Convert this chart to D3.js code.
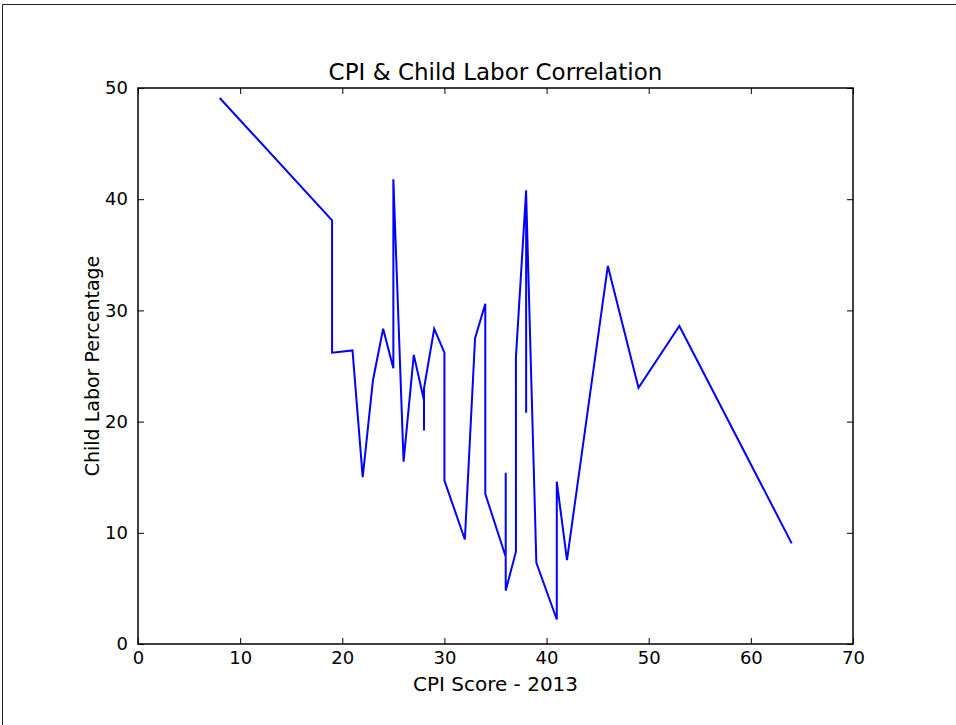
<!DOCTYPE html>
<html>
<head>
<meta charset="utf-8">
<script src="https://cdn.jsdelivr.net/npm/d3@7"></script>
<style>
  html, body { margin: 0; padding: 0; background: #fff; }
  text { font-family: "DejaVu Sans", sans-serif; fill: #000; }
</style>
</head>
<body>
<div id="chart"></div>
<script>
// CPI score 2013 (x) vs child labor percentage (y), in plotted order
const cpiScores = [8, 19, 19, 21, 22, 23, 24, 25, 25, 26, 27, 28, 28, 28, 29, 30, 30, 32, 33, 34, 34,
  36, 36, 36, 37, 37, 38, 38, 38, 39, 41, 41, 42, 46, 49, 53, 64];
const childLabor = [49.1, 38.1, 26.2, 26.4, 15.0, 23.7, 28.35, 24.8, 41.8, 16.4, 26.0, 21.9, 19.2, 23.0,
  28.35, 26.2, 14.7, 9.4, 27.5, 30.6, 13.5, 7.85, 15.4, 4.8, 8.3, 25.8, 40.8, 20.8, 40.5, 7.3, 2.2,
  14.6, 7.55, 34.0, 23.05, 28.6, 9.05];
const xTicks = [0, 10, 20, 30, 40, 50, 60, 70];
const yTicks = [0, 10, 20, 30, 40, 50];

const W = 956, H = 725;
const m = { left: 138, top: 88, right: 853, bottom: 644 };

const svg = d3.select('#chart').append('svg')
  .attr('width', W).attr('height', H);

svg.append('rect').attr('width', W).attr('height', H).attr('fill', '#fff');

// Rahmen (oben / links)
svg.append('path')
  .attr('d', `M2.5,${H}V4.5H${W}`)
  .attr('fill', 'none').attr('stroke', '#222').attr('stroke-width', 1);

const x = d3.scaleLinear().domain([0, 70]).range([m.left, m.right]);
const y = d3.scaleLinear().domain([0, 50]).range([m.bottom, m.top]);

const pts = cpiScores.map((c, i) => [c, childLabor[i]]);

svg.append('path')
  .datum(pts)
  .attr('fill', 'none')
  .attr('stroke', '#0000ff')
  .attr('stroke-width', 2)
  .attr('stroke-linejoin', 'miter')
  .attr('d', d3.line().x(d => x(d[0])).y(d => y(d[1])));

// Achsen mit Ticks nach innen (matplotlib classic)
const tick = 6;
const bottomAxis = d3.axisBottom(x).tickValues(xTicks).tickSizeInner(-tick).tickSizeOuter(0).tickPadding(7);
const topAxis = d3.axisTop(x).tickValues(xTicks).tickSizeInner(-tick).tickSizeOuter(0).tickFormat('');
const leftAxis = d3.axisLeft(y).tickValues(yTicks).tickSizeInner(-tick).tickSizeOuter(0).tickPadding(10);
const rightAxis = d3.axisRight(y).tickValues(yTicks).tickSizeInner(-tick).tickSizeOuter(0).tickFormat('');

function styleAxis(g) {
  g.select('.domain').remove();
  g.selectAll('.tick line').attr('stroke', '#000').attr('stroke-width', 1);
  g.selectAll('.tick text').attr('font-size', 18).attr('font-family', '"DejaVu Sans", sans-serif');
}

svg.append('g').attr('transform', `translate(0,${m.bottom})`).call(bottomAxis).call(styleAxis);
svg.append('g').attr('transform', `translate(0,${m.top})`).call(topAxis).call(styleAxis);
svg.append('g').attr('transform', `translate(${m.left},0)`).call(leftAxis).call(styleAxis);
svg.append('g').attr('transform', `translate(${m.right},0)`).call(rightAxis).call(styleAxis);

// Rahmen der Achsen
svg.append('rect')
  .attr('x', m.left).attr('y', m.top)
  .attr('width', m.right - m.left).attr('height', m.bottom - m.top)
  .attr('fill', 'none').attr('stroke', '#000').attr('stroke-width', 1.5);

// Titel und Beschriftungen
const cx = (m.left + m.right) / 2;
svg.append('text')
  .attr('x', cx).attr('y', 80)
  .attr('text-anchor', 'middle').attr('font-size', 23)
  .text('CPI & Child Labor Correlation');

svg.append('text')
  .attr('x', cx).attr('y', 691)
  .attr('text-anchor', 'middle').attr('font-size', 20)
  .text('CPI Score - 2013');

svg.append('text')
  .attr('transform', `translate(99,${(m.top + m.bottom) / 2}) rotate(-90)`)
  .attr('text-anchor', 'middle').attr('font-size', 19)
  .text('Child Labor Percentage');
</script>
</body>
</html>
